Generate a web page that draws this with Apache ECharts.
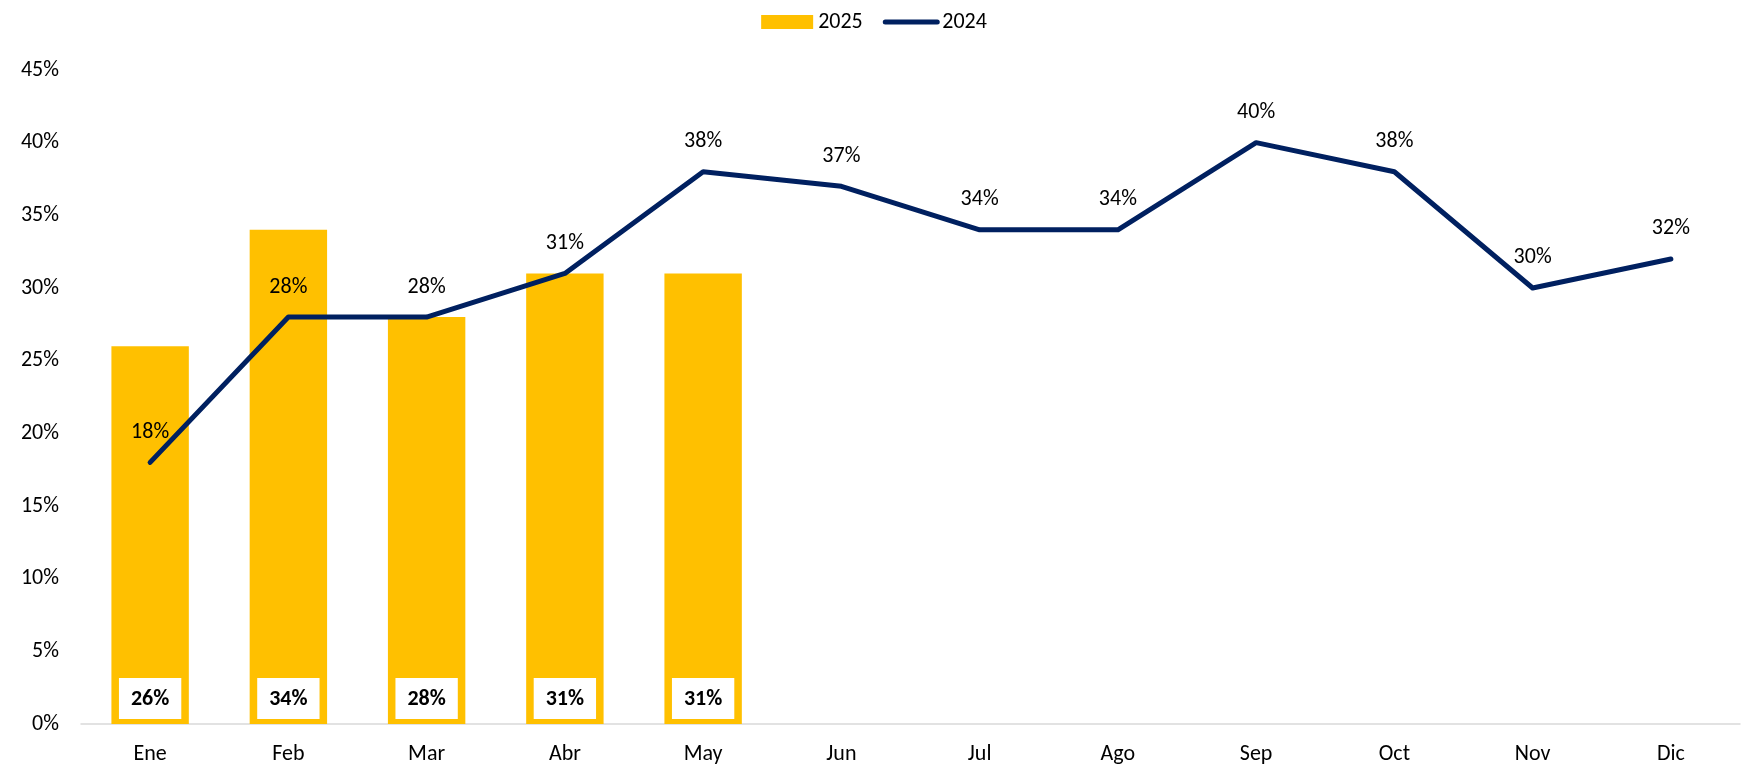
<!DOCTYPE html>
<html>
<head>
<meta charset="utf-8">
<script src="https://cdn.jsdelivr.net/npm/echarts@6/dist/echarts.min.js"></script>
<style>
  html, body { margin: 0; padding: 0; background: #fff; }
  #chart { width: 1748px; height: 768px; }
</style>
</head>
<body>
<div id="chart"></div>
<script>
// datos (porcentajes)
const months = ["Ene", "Feb", "Mar", "Abr", "May", "Jun", "Jul", "Ago", "Sep", "Oct", "Nov", "Dic"];
const values2025 = [26, 34, 28, 31, 31];
const values2024 = [18, 28, 28, 31, 38, 37, 34, 34, 40, 38, 30, 32];

const font = "Calibri, Carlito, 'Noto Sans', sans-serif";

const chart = echarts.init(document.getElementById("chart"));
const option = {
  animation: false,
  textStyle: { fontFamily: font },
  legend: {
    top: 6,
    left: "center",
    itemGap: 20,
    itemWidth: 52,
    itemHeight: 14,
    textStyle: { fontSize: 22, color: "#000", fontFamily: font },
    data: [
      { name: "2025", icon: "rect" },
      { name: "2024", itemStyle: { opacity: 0 }, lineStyle: { width: 5, cap: "round" } },
    ],
  },
  grid: {
    left: 81,
    right: 8,
    top: 70,
    bottom: 44,
    containLabel: false,
  },
  xAxis: {
    type: "category",
    data: months,
    axisLine: { lineStyle: { color: "#d9d9d9", width: 1.5 } },
    axisTick: { show: false },
    axisLabel: { color: "#000", fontSize: 22, margin: 19, fontFamily: font },
  },
  yAxis: {
    type: "value",
    min: 0,
    max: 45,
    interval: 5,
    splitLine: { show: false },
    axisLine: { show: false },
    axisTick: { show: false },
    axisLabel: {
      formatter: "{value}%",
      color: "#000",
      fontSize: 22,
      margin: 22,
      fontFamily: font,
    },
  },
  series: [
    {
      name: "2025",
      type: "bar",
      data: values2025,
      barWidth: "56%",
      itemStyle: { color: "#FFC000" },
      label: {
        show: true,
        position: "insideBottom",
        distance: 5,
        formatter: "{c}%",
        backgroundColor: "#fff",
        padding: [10, 12, 9, 12],
        fontSize: 22,
        fontWeight: "bold",
        color: "#000",
        fontFamily: font,
      },
    },
    {
      name: "2024",
      type: "line",
      data: values2024,
      symbol: "circle",
      symbolSize: 0.1,
      showSymbol: true,
      lineStyle: { color: "#002060", width: 5, cap: "round", join: "round" },
      itemStyle: { color: "#002060" },
      label: {
        show: true,
        position: "top",
        distance: 19,
        formatter: "{c}%",
        fontSize: 22,
        color: "#000",
        fontFamily: font,
      },
    },
  ],
};
chart.setOption(option);
</script>
</body>
</html>
